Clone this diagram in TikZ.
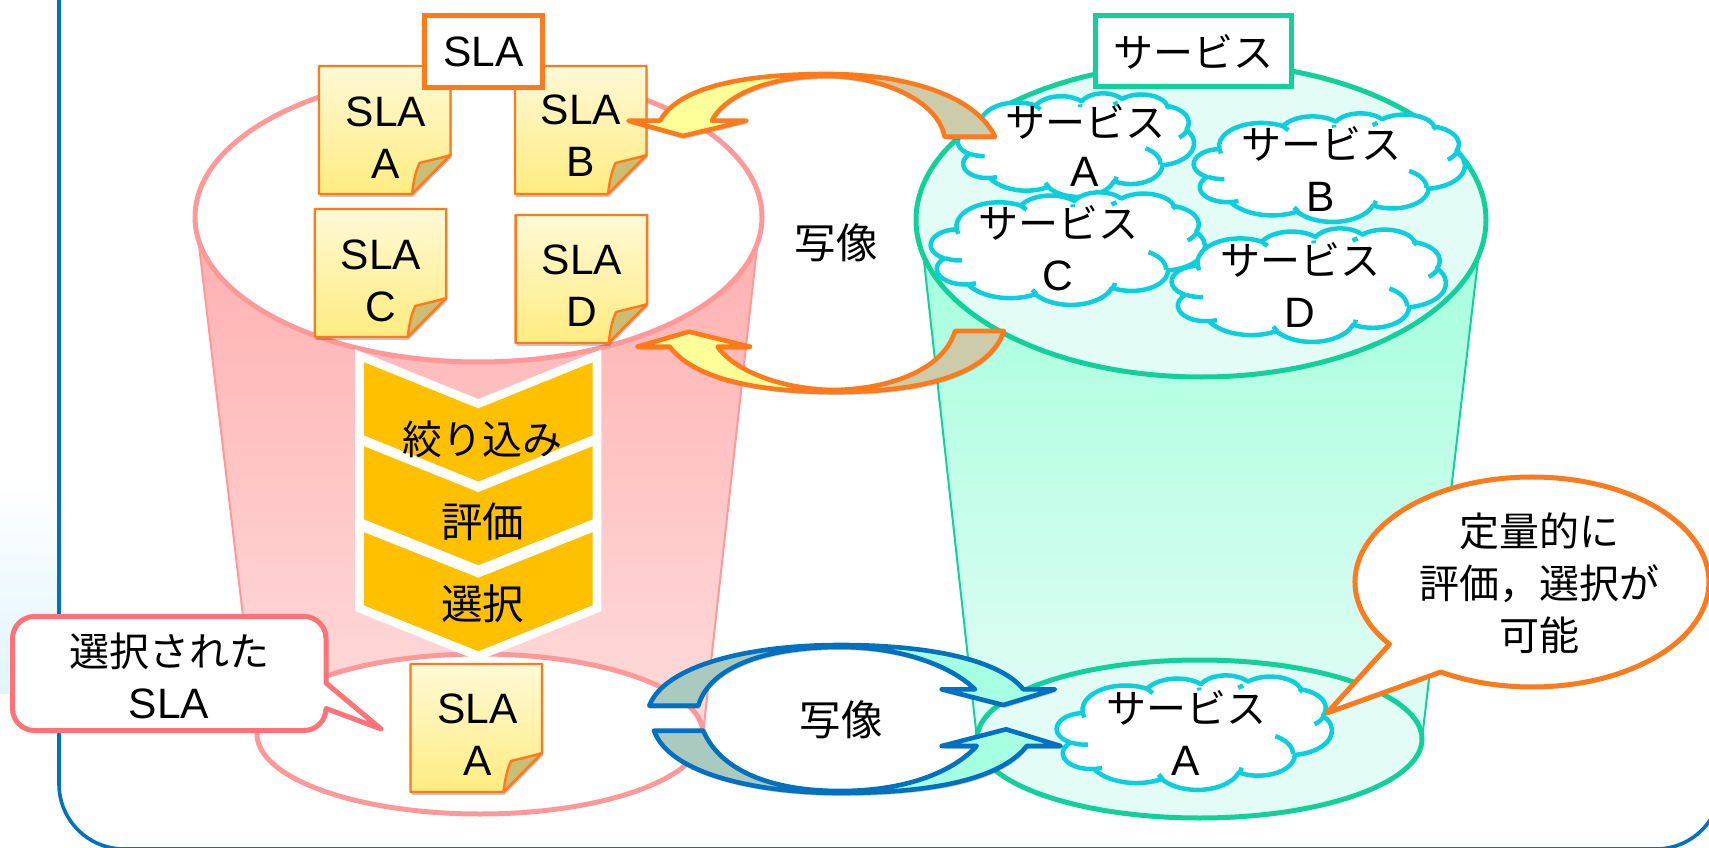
\documentclass[tikz,border=0pt]{standalone}
\usepackage{fontspec}
\setmainfont{Liberation Sans}
\newfontfamily\jp{Noto Sans CJK JP}
\newcommand\jpt[1]{{\jp\fontsize{40}{52}\selectfont #1}}
\newcommand\jpk[1]{{\jp\fontsize{41.5}{52}\selectfont #1}}
\usetikzlibrary{shadows}
\definecolor{orng}{HTML}{FF7A1C}
\definecolor{pinkln}{HTML}{FF9999}
\definecolor{grnln}{HTML}{12D09A}
\definecolor{cyanln}{HTML}{0BCFDD}
\definecolor{bluln}{HTML}{0070C0}
\definecolor{calred}{HTML}{FF7377}
\definecolor{yel}{HTML}{FFFF99}
\definecolor{dull}{HTML}{CCCCAA}
\definecolor{teal2}{HTML}{ABCABF}
\definecolor{mint}{HTML}{A6FFE0}
\definecolor{chev}{HTML}{FFC000}
\definecolor{fold}{HTML}{CBBD72}
\definecolor{notetop}{HTML}{FFF9D6}
\definecolor{notebot}{HTML}{FFEC80}
\definecolor{bgblue}{HTML}{DFF5FD}
\definecolor{pinkA}{HTML}{FFB1B1}
\definecolor{pinkB}{HTML}{FFC6C6}
\definecolor{pinkC}{HTML}{FFDCDC}
\definecolor{grnA}{HTML}{A4FFDE}
\definecolor{grnB}{HTML}{BAFFE5}
\definecolor{grnC}{HTML}{E3FCF5}
% --- cloud outline (coordinates in a 432 x 432 box)
\def\cloudpath{(39,143.7) }
\newcommand\addarc[4]{%
 \pgfmathsetmacro\ca{atan2(#1*sin(#3),#2*cos(#3))}%
 \pgfmathsetmacro\cb{atan2(#1*sin(#3+#4),#2*cos(#3+#4))}%
 \pgfmathsetmacro\cb{\cb<\ca?\cb+360:\cb}%
 \edef\cloudpath{\cloudpath arc[x radius=#1,y radius=#2,start angle=\ca,end angle=\cb] }}
\addarc{67.53}{91.90}{-190.487}{123.781}
\addarc{53.33}{72.67}{-144.102}{89.945}
\addarc{43.65}{59.45}{-145.808}{99.723}
\addarc{48.57}{59.45}{-130.986}{117.242}
\addarc{53.33}{72.73}{-78.709}{109.027}
\addarc{67.75}{92.20}{-46.267}{130.269}
\addarc{57.85}{78.67}{0.625}{114.033}
\addarc{67.52}{92.15}{22.452}{115.173}
\addarc{77.20}{105.43}{66.243}{75.711}
\addarc{43.60}{59.18}{-274.942}{146.736}
\addarc{43.45}{59.45}{-246.829}{152.519}
\def\stubpath{}
\newcommand\addstub[6]{%
 \pgfmathsetmacro\ca{atan2(#3*sin(#5),#4*cos(#5))}%
 \pgfmathsetmacro\cb{atan2(#3*sin(#5+#6),#4*cos(#5+#6))}%
 \pgfmathsetmacro\cb{\cb<\ca?\cb+360:\cb}%
 \edef\stubpath{\stubpath (#1,#2) arc[x radius=#3,y radius=#4,start angle=\ca,end angle=\cb] }}
\addstub{46.93}{261.77}{43.45}{59.45}{86.742}{26.43}
\addstub{69.28}{348.99}{43.60}{59.18}{73.61}{11.447}
\addstub{164.78}{390.90}{67.52}{92.15}{137.62}{14.08}
\addstub{288.27}{347.51}{67.52}{92.15}{6.45}{16}
\addstub{341.29}{229.54}{57.85}{78.67}{-66}{66}
\addstub{417.98}{153.54}{53.33}{72.73}{23.3}{33}
\edef\stubpath{\stubpath (383.24,54.26) -- (379.5,64) (290.78,39.52) -- (283,48) (221.41,47.2) -- (222,58) (140,51.92) -- (149,68) (39,143.7) -- (41.27,160)}
\tikzset{
 txt/.style={inner sep=0pt,align=center,font=\fontsize{42.5}{52}\selectfont},
 cloudline/.style={draw=cyanln,line width=4.5pt,line join=round},
 noteline/.style={draw=orng,line width=2.4pt,line join=round},
 chevshape/.style={draw=white,line width=8.6pt,fill=chev,line join=miter,miter limit=10},
 arrowline/.style={line width=4.6pt,line join=round},
 tag/.style={fill=white,inner sep=0pt,line width=5pt,font=\fontsize{42.5}{52}\selectfont},
}
\newcommand\cloudat[4]{%
 \begin{scope}[shift={(#1,#2)},xscale={(#3-#1)/432},yscale={(#4-#2)/432}]
 \path[cloudline,fill=white] \cloudpath -- cycle;
 \path[cloudline] \stubpath;
 \end{scope}}
\newcommand\notebox[2]{%
 \begin{scope}[shift={(#1,#2)}]
 \path[fill=black,opacity=.22] (1,3) -- (132.5,3) -- (132.5,92) -- (94,131) -- (1,131) -- cycle;
 \path[noteline,top color=notetop,bottom color=notebot]
  (0,0) -- (131.5,0) -- (131.5,89) -- (93,128) -- (0,128) -- cycle;
 \path[noteline,fill=fold] (93,128) .. controls (95,112) and (97,105) .. (100.5,97) .. controls (112,94) and (122,92) .. (131.5,89) -- cycle;
 \end{scope}}
\begin{document}
\begin{tikzpicture}[x=1pt,y=-1pt]
\useasboundingbox (0,0) rectangle (1709,848);
\clip (0,0) rectangle (1709,848);
\fill[white] (0,0) rectangle (1709,848);
\shade[top color=white,bottom color=bgblue] (0,480) rectangle (60,693);
% frame
\draw[bluln,line width=3.6pt,fill=white,rounded corners=65pt] (59,-100) rectangle (1721,849);
% pink cylinder
\shade[top color=pinkA,middle color=pinkB,bottom color=pinkC] (198.7,243) -- (757.5,243) -- (703,734) -- (257,734) -- cycle;
\draw[pinkln,line width=2pt] (198.7,243) -- (257,734) (757.5,243) -- (703,734);
\draw[pinkln,line width=5pt,fill=white] (480,734) ellipse [x radius=223,y radius=80];
\draw[pinkln,line width=5pt,fill=white] (478.5,217) ellipse [x radius=283.5,y radius=145];
% green cylinder
\shade[top color=grnA,middle color=grnB,bottom color=grnC] (922,243) -- (1480,243) -- (1422,739) -- (977,739) -- cycle;
\draw[grnln,line width=2pt] (922,243) -- (977,739) (1480,243) -- (1422,739);
\draw[grnln,line width=5pt,fill=grnC] (1199.5,739) ellipse [x radius=222.5,y radius=79];
\draw[grnln,line width=5pt,fill=grnC] (1201,220) ellipse [x radius=285,y radius=157];
% notes
\notebox{319}{66}
\notebox{515}{66}
\notebox{314.7}{209}
\notebox{515.6}{215}
\notebox{410.5}{664}
% clouds
\cloudat{959}{93}{1195}{197}
\cloudat{1195}{113}{1466}{222}
\cloudat{932}{192}{1206}{305}
\cloudat{1173}{228}{1447}{342}
\cloudat{1058}{675}{1333}{790}
% chevrons
\path[chevshape] (359.5,355.7) -- (478.3,403.7) -- (597,355.7) -- (597,438.3) -- (478.3,486.3) -- (359.5,438.3) -- cycle;
\path[chevshape] (359.5,439.7) -- (478.3,487.4) -- (597,439.7) -- (597,522.3) -- (478.3,570) -- (359.5,522.3) -- cycle;
\path[chevshape] (359.5,525.7) -- (478.3,573) -- (597,525.7) -- (597,608.3) -- (478.3,656) -- (359.5,608.3) -- cycle;
% arrows: top orange
\path[fill=black,opacity=.2,shift={(1,3)}] (995,136.7) .. controls (975,95) and (905,74) .. (827,74) .. controls (750,74) and (680,85) .. (660,120.7) -- (628.4,120.7) -- (683,136) -- (746.3,120.7) -- (711.8,120.7) .. controls (725,95) and (770,76) .. (827,76) .. controls (880,76) and (938,100) .. (944.5,136.7) -- cycle;
\path[fill=dull] (995,136.7) .. controls (975,95) and (905,74) .. (827,74) .. controls (750,74) and (680,85) .. (660,120.7) -- (628.4,120.7) -- (683,136) -- (746.3,120.7) -- (711.8,120.7) .. controls (725,95) and (770,76) .. (827,76) .. controls (880,76) and (938,100) .. (944.5,136.7) -- cycle;
\fill[yel] (827,74) .. controls (750,74) and (680,85) .. (660,120.7) -- (628.4,120.7) -- (683,136) -- (746.3,120.7) -- (711.8,120.7) .. controls (725,95) and (770,76) .. (827,76) -- cycle;
\draw[orng,arrowline] (995,136.7) .. controls (975,95) and (905,74) .. (827,74) .. controls (750,74) and (680,85) .. (660,120.7) -- (628.4,120.7) -- (683,136) -- (746.3,120.7) -- (711.8,120.7) .. controls (725,95) and (770,76) .. (827,76) .. controls (880,76) and (938,100) .. (944.5,136.7) -- cycle;
% lower orange
\path[fill=black,opacity=.2,shift={(1,3)}] (1003.8,331) .. controls (990,375) and (920,392) .. (836,392) .. controls (760,392) and (695,380) .. (669.7,346.7) -- (637.2,346.7) -- (689,331.7) -- (750,346.7) -- (717.6,346.7) .. controls (735,372) and (785,390) .. (836,390) .. controls (900,388) and (945,365) .. (955,331) -- cycle;
\path[fill=dull] (1003.8,331) .. controls (990,375) and (920,392) .. (836,392) .. controls (760,392) and (695,380) .. (669.7,346.7) -- (637.2,346.7) -- (689,331.7) -- (750,346.7) -- (717.6,346.7) .. controls (735,372) and (785,390) .. (836,390) .. controls (900,388) and (945,365) .. (955,331) -- cycle;
\fill[yel] (836,392) .. controls (760,392) and (695,380) .. (669.7,346.7) -- (637.2,346.7) -- (689,331.7) -- (750,346.7) -- (717.6,346.7) .. controls (735,372) and (785,390) .. (836,390) -- cycle;
\draw[orng,arrowline] (1003.8,331) .. controls (990,375) and (920,392) .. (836,392) .. controls (760,392) and (695,380) .. (669.7,346.7) -- (637.2,346.7) -- (689,331.7) -- (750,346.7) -- (717.6,346.7) .. controls (735,372) and (785,390) .. (836,390) .. controls (900,388) and (945,365) .. (955,331) -- cycle;
% upper blue
\path[fill=black,opacity=.2,shift={(1,3)}] (649.3,705.7) .. controls (665,665) and (750,645) .. (840,645) .. controls (930,645) and (1000,660) .. (1023.3,689.3) -- (1055,689.3) -- (1003.3,705) -- (941.7,689.3) -- (975,689.3) .. controls (950,665) and (900,647) .. (840,647) .. controls (770,647) and (710,665) .. (698.3,705.7) -- cycle;
\path[fill=teal2] (649.3,705.7) .. controls (665,665) and (750,645) .. (840,645) .. controls (930,645) and (1000,660) .. (1023.3,689.3) -- (1055,689.3) -- (1003.3,705) -- (941.7,689.3) -- (975,689.3) .. controls (950,665) and (900,647) .. (840,647) .. controls (770,647) and (710,665) .. (698.3,705.7) -- cycle;
\fill[mint] (840,645) .. controls (930,645) and (1000,660) .. (1023.3,689.3) -- (1055,689.3) -- (1003.3,705) -- (941.7,689.3) -- (975,689.3) .. controls (950,665) and (900,647) .. (840,647) -- cycle;
\draw[bluln,arrowline] (649.3,705.7) .. controls (665,665) and (750,645) .. (840,645) .. controls (930,645) and (1000,660) .. (1023.3,689.3) -- (1055,689.3) -- (1003.3,705) -- (941.7,689.3) -- (975,689.3) .. controls (950,665) and (900,647) .. (840,647) .. controls (770,647) and (710,665) .. (698.3,705.7) -- cycle;
% lower blue
\path[fill=black,opacity=.2,shift={(1,3)}] (654,730.7) .. controls (670,775) and (760,793) .. (840,793) .. controls (930,793) and (1000,780) .. (1026.7,746) -- (1060.7,746) -- (1006,729.3) -- (941.7,746) -- (976.7,746) .. controls (950,775) and (900,791) .. (840,791) .. controls (770,791) and (720,770) .. (703.3,730.7) -- cycle;
\path[fill=teal2] (654,730.7) .. controls (670,775) and (760,793) .. (840,793) .. controls (930,793) and (1000,780) .. (1026.7,746) -- (1060.7,746) -- (1006,729.3) -- (941.7,746) -- (976.7,746) .. controls (950,775) and (900,791) .. (840,791) .. controls (770,791) and (720,770) .. (703.3,730.7) -- cycle;
\fill[mint] (840,793) .. controls (930,793) and (1000,780) .. (1026.7,746) -- (1060.7,746) -- (1006,729.3) -- (941.7,746) -- (976.7,746) .. controls (950,775) and (900,791) .. (840,791) -- cycle;
\draw[bluln,arrowline] (654,730.7) .. controls (670,775) and (760,793) .. (840,793) .. controls (930,793) and (1000,780) .. (1026.7,746) -- (1060.7,746) -- (1006,729.3) -- (941.7,746) -- (976.7,746) .. controls (950,775) and (900,791) .. (840,791) .. controls (770,791) and (720,770) .. (703.3,730.7) -- cycle;
% callouts
\draw[calred,line width=5pt,fill=white,line join=round] (326,683) -- (381,729) -- (326,708.5) arc[radius=22,start angle=0,delta angle=90] -- (34.5,730.5) arc[radius=22,start angle=90,delta angle=90] -- (12.5,638.5) arc[radius=22,start angle=180,delta angle=90] -- (304,616.5) arc[radius=22,start angle=270,delta angle=90] -- cycle;
\draw[orng,line width=5pt,fill=white,line join=round] (1389.5,644.3) arc[x radius=177,y radius=105,start angle=143.6,end angle=481] -- (1327,713) -- cycle;
% label boxes
\node[tag,draw=orng,minimum width=117.5pt,minimum height=72pt] (slabox) at (483.25,52) {SLA};
\node[tag,draw=grnln,minimum width=196pt,minimum height=71pt] (svcbox) at (1193,51.5) {\jpt{サービス}};
% texts
\node[txt] (na) at (386,137.5) {SLA\\A};
\node[txt] (nb) at (581,136) {SLA\\B};
\node[txt] (nc) at (381,280.5) {SLA\\C};
\node[txt] (nd) at (582,286) {SLA\\D};
\node[txt] (ne) at (477.5,735) {SLA\\A};
\node[txt] (sa) at (1085,146) {\jpt{サービス}\\[-3pt]A};
\node[txt] (sb) at (1321,169) {\jpt{サービス}\\B};
\node[txt] (sc) at (1058,248) {\jpt{サービス}\\C};
\node[txt] (sd) at (1300,285) {\jpt{サービス}\\D};
\node[txt] (se) at (1186,733) {\jpt{サービス}\\A};
\node[txt] (m1) at (836,243) {\jpk{写像}};
\node[txt] (m2) at (841,720) {\jpk{写像}};
\node[txt] (c1) at (482.7,439) {\jpt{絞り込み}};
\node[txt] (c2) at (482.7,521.7) {\jpk{評価}};
\node[txt] (c3) at (482.7,604) {\jpk{選択}};
\node[txt] (t1) at (169,676) {\jpt{選択された}\\SLA};
\node[txt] (t2) at (1539,583) {\jpt{定量的に}\\\jpt{評価，選択が}\\\jpt{可能}};
\end{tikzpicture}
\end{document}
